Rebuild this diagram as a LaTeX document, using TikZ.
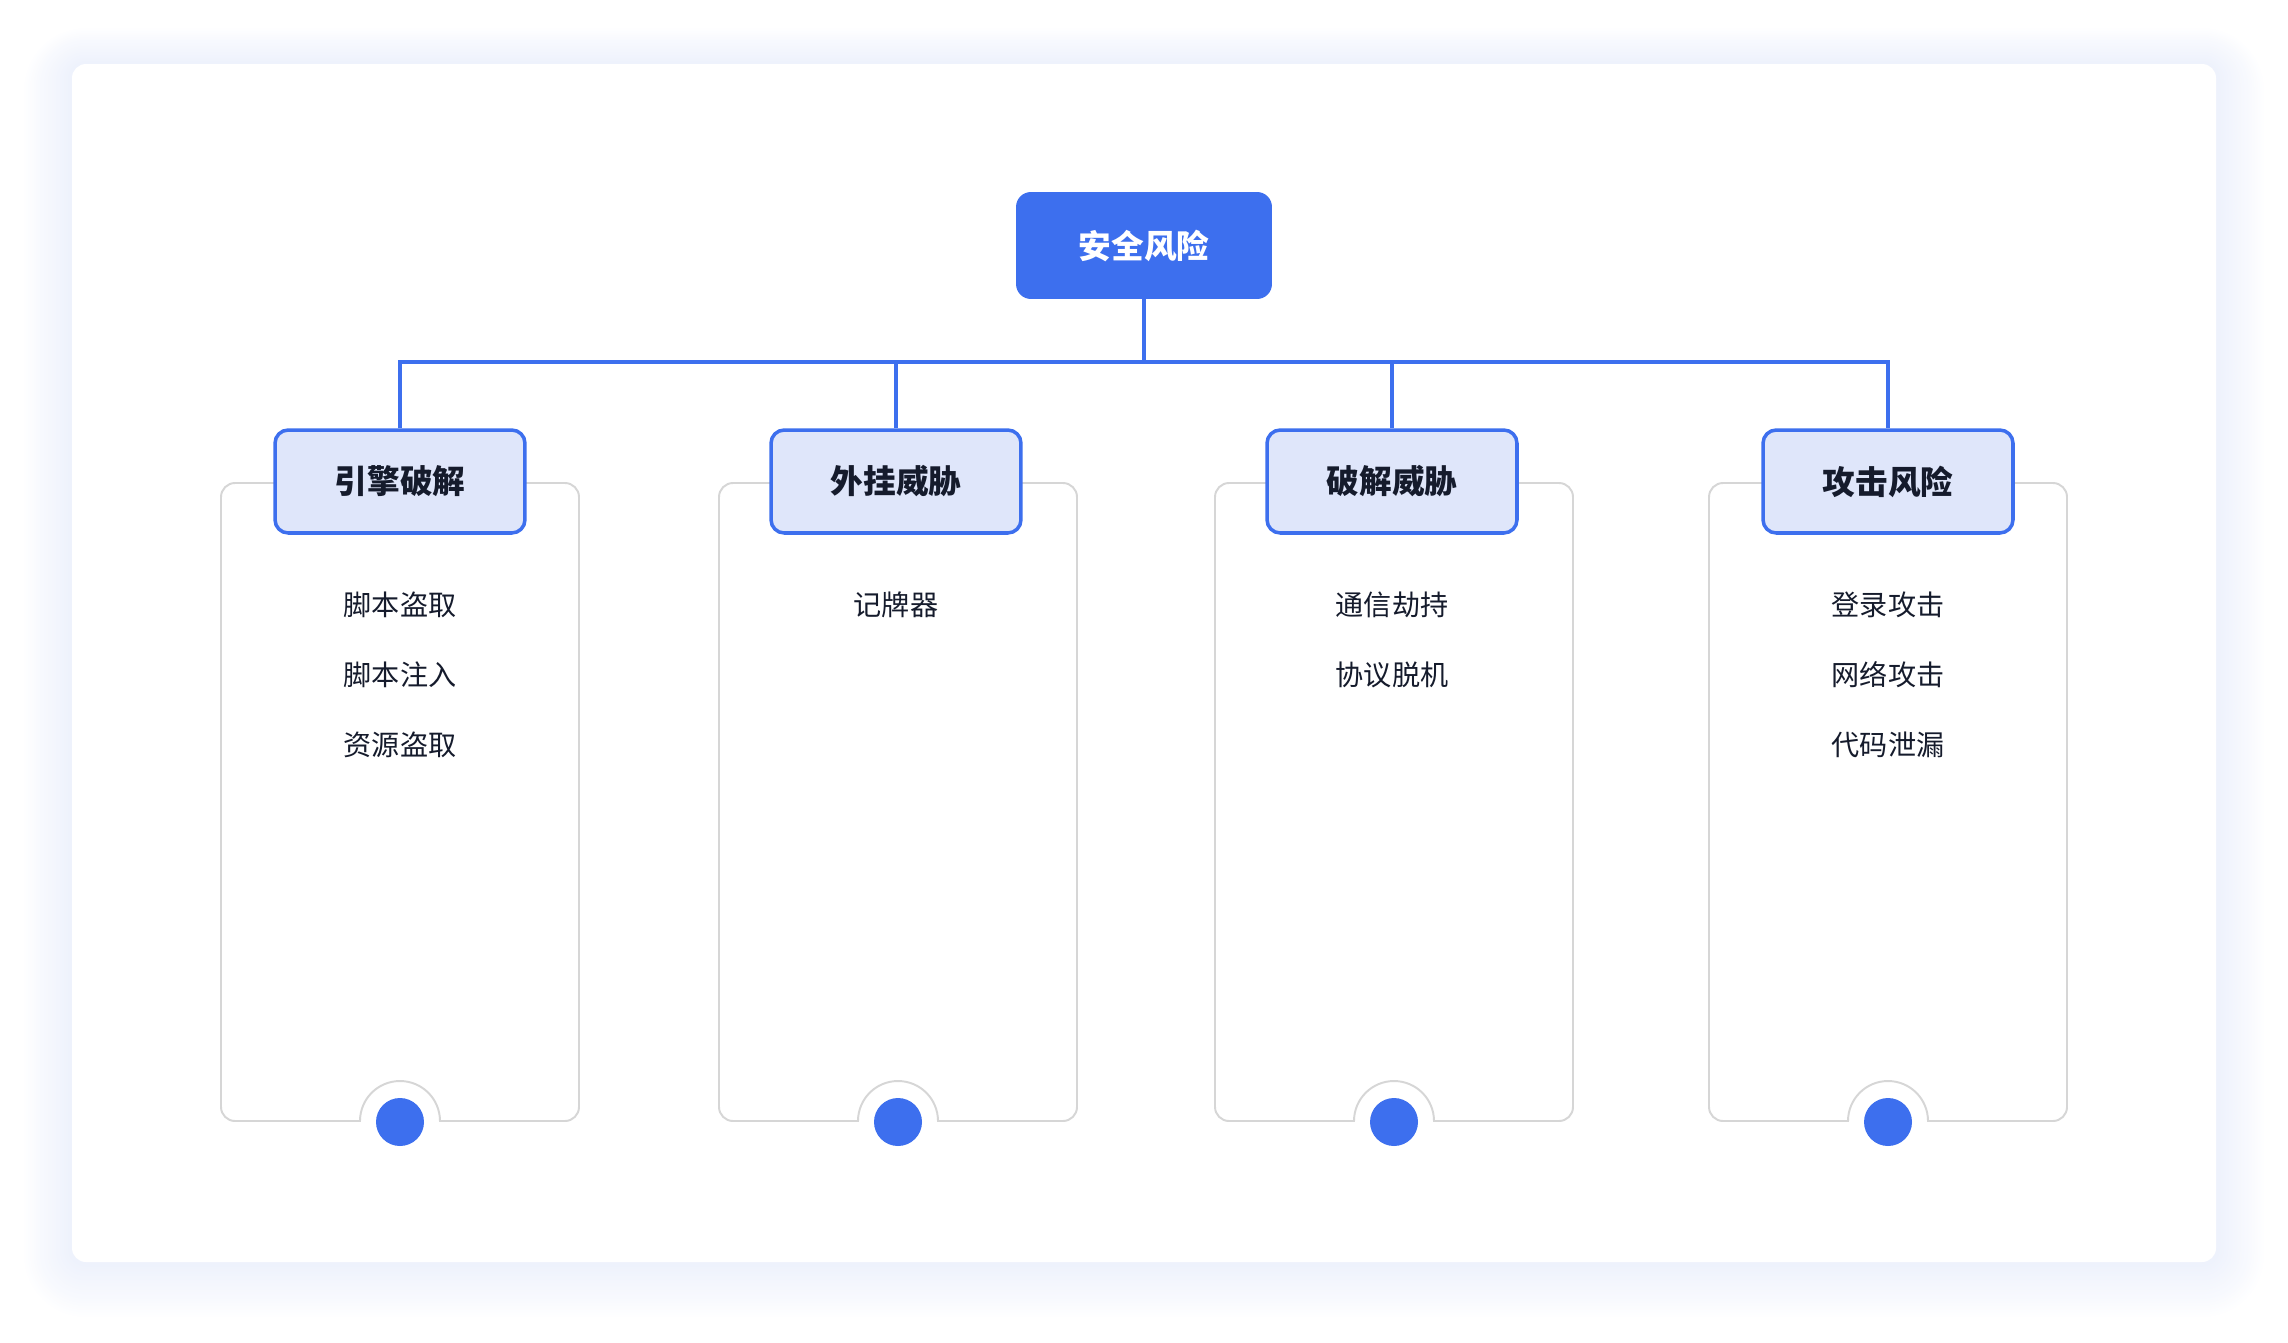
\documentclass[tikz,border=0pt]{standalone}
\usepackage{fontspec}
\newfontfamily\cjk{Noto Sans CJK SC}
\usetikzlibrary{positioning,calc}
\definecolor{mainclr}{HTML}{3D6FEE}
\definecolor{headclr}{HTML}{DFE6FA}
\definecolor{cardclr}{HTML}{D6D6D6}
\definecolor{textclr}{HTML}{151B2C}
\definecolor{glowclr}{HTML}{C8D4F6}

\begin{document}
\begin{tikzpicture}[
  x=0.02cm, y=-0.02cm,
  font=\cjk,
  root/.style={
    rectangle, rounded corners=8.5pt, fill=mainclr, text=white,
    minimum width=5.12cm, minimum height=2.14cm,
    font=\cjk\bfseries\fontsize{18.6pt}{20pt}\selectfont,
  },
  head/.style={
    rectangle, rounded corners=7.5pt, draw=mainclr, line width=2pt, fill=headclr,
    minimum width=5.0cm, minimum height=2.06cm, text=textclr,
    font=\cjk\bfseries\fontsize{18.6pt}{20pt}\selectfont,
  },
  item/.style={text=textclr, font=\cjk\fontsize{16pt}{18pt}\selectfont},
  card/.style={draw=cardclr, line width=1.1pt},
  link/.style={draw=mainclr, line width=2.2pt},
  dot/.style={circle, fill=mainclr, minimum size=0.96cm, inner sep=0pt},
]
\useasboundingbox (0,0) rectangle (2288,1342);

% Soft glow behind the panel
\foreach \i in {1,...,24}{
  \pgfmathsetmacro\rr{(14+2*\i)*0.567}
  \fill[glowclr, opacity=0.016, rounded corners=\rr pt]
    (72-2*\i,64-1.8*\i+0.3*\i) rectangle (2216+2*\i,1262+2*\i+0.3*\i);
}
\fill[white, rounded corners=8pt] (72,64) rectangle (2216,1262);

% Cards
\foreach \cx in {400,898,1394,1888}{
  \draw[card] (\cx,483) [rounded corners=8pt] -- (\cx-179,483) -- (\cx-179,1121)
    [sharp corners] -- (\cx-40,1121) arc[start angle=180, end angle=0, radius=0.8cm]
    [rounded corners=8pt] -- (\cx+179,1121) -- (\cx+179,483) -- (\cx,483);
}

% Root and branches
\node[root] (risk) at (1144,245.5) {安全风险};
\node[head] (engine) at (400,481.5)  {引擎破解};
\node[head] (cheat)  at (896,481.5)  {外挂威胁};
\node[head] (crack)  at (1392,481.5) {破解威胁};
\node[head] (attack) at (1888,481.5) {攻击风险};

% Tree lines
\coordinate (bus) at (1144,362);
\draw[link] (risk.south) -- (risk.south |- bus);
\draw[link] (engine.north) |- (bus -| attack.north) -- (attack.north);
\draw[link] (cheat.north) -- (cheat.north |- bus);
\draw[link] (crack.north) -- (crack.north |- bus);

% Items
\node[item] (e1) at (400,605) {脚本盗取};
\node[item] (e2) at (400,675) {脚本注入};
\node[item] (e3) at (400,745) {资源盗取};

\node[item] (c1) at (896,605) {记牌器};

\node[item] (k1) at (1392,605) {通信劫持};
\node[item] (k2) at (1392,675) {协议脱机};

\node[item] (a1) at (1888,605) {登录攻击};
\node[item] (a2) at (1888,675) {网络攻击};
\node[item] (a3) at (1888,745) {代码泄漏};

% Bottom dots
\node[dot] (d1) at (400,1122) {};
\node[dot] (d2) at (898,1122) {};
\node[dot] (d3) at (1394,1122) {};
\node[dot] (d4) at (1888,1122) {};

\end{tikzpicture}
\end{document}
